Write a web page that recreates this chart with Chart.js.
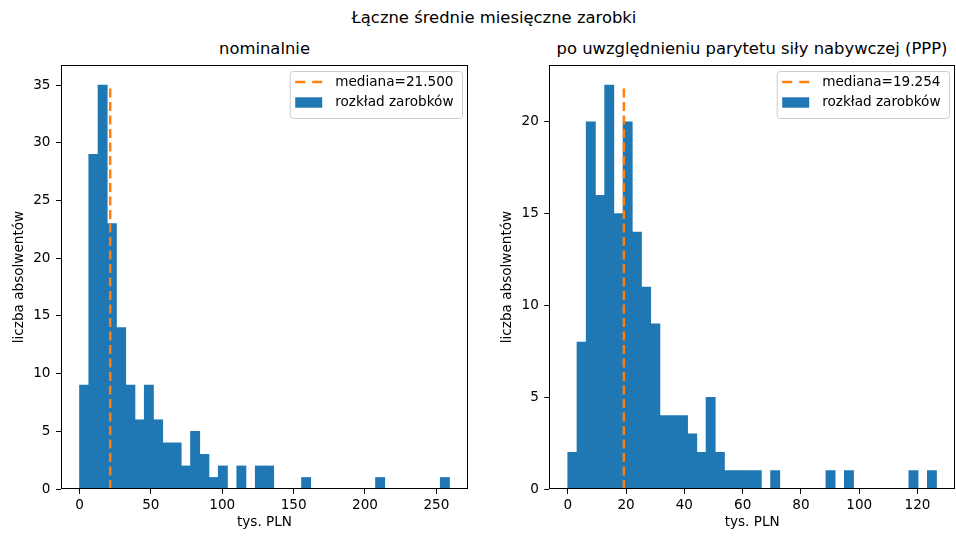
<!DOCTYPE html>
<html>
<head>
<meta charset="utf-8">
<script src="https://cdn.jsdelivr.net/npm/chart.js@4.4.0/dist/chart.umd.min.js"></script>
<style>
html,body{margin:0;padding:0;background:#fff;}
body{width:956px;height:536px;position:relative;overflow:hidden;font-family:"DejaVu Sans",sans-serif;}
.box{position:absolute;top:0;height:536px;}
.ttl{position:absolute;transform:translate(-50%,-50%);white-space:nowrap;color:#000;font-size:16.4px;line-height:1;}
</style>
</head>
<body>
<div class="ttl" style="left:494px;top:18px">Łączne średnie miesięczne zarobki</div>
<div class="ttl" style="left:264.5px;top:49px">nominalnie</div>
<div class="ttl" style="left:752px;top:49px">po uwzględnieniu parytetu siły nabywczej (PPP)</div>
<div class="box" style="left:0;width:478px"><canvas id="cNom"></canvas></div>
<div class="box" style="left:478px;width:478px"><canvas id="cPpp"></canvas></div>
<script>
/* ── DATA ── */
// nominal earnings, thousands PLN: 40 bins
const nomCounts   = [9,29,35,23,14,9,6,9,6,4, 4,2,5,3,1,2,0,2,0,2, 2,0,0,0,1,0,0,0,0,0, 0,0,1,0,0,0,0,0,0,1];
const nomBinStart = 0;
const nomBinWidth = 6.48;
const nomMedian   = 21.5;
const nomXTicks   = [0,50,100,150,200,250];
const nomYTicks   = [0,5,10,15,20,25,30,35];

// PPP-adjusted earnings: 40 bins
const pppCounts   = [2,8,20,16,22,15,20,14,11,9, 4,4,4,3,2,5,2,1,1,1, 1,0,1,0,0,0,0,0,1,0, 1,0,0,0,0,0,0,1,0,1];
const pppBinStart = 0;
const pppBinWidth = 3.163;
const pppMedian   = 19.254;
const pppXTicks   = [0,20,40,60,80,100,120];
const pppYTicks   = [0,5,10,15,20];

const BLUE='#1f77b4', ORANGE='#ff7f0e', FONT='"DejaVu Sans"', FS=13.6;
const DASH=[9,4.5];

/* ── frame (4 spines) + matplotlib-like legend ── */
const frame = {
  id:'frame',
  afterDraw(chart){
    const {ctx, chartArea:a} = chart;
    ctx.save();
    ctx.strokeStyle='#000'; ctx.lineWidth=1;
    const l=Math.round(a.left)+0.5, t=Math.round(a.top)+0.5, r=Math.round(a.right)-0.5, b=Math.round(a.bottom)-0.5;
    ctx.strokeRect(l,t,r-l,b-t);

    // legend box in the upper right corner
    ctx.font = FS+'px '+FONT;
    const ds = chart.data.datasets;
    const tw = Math.max(...ds.map(d=>ctx.measureText(d.label).width));
    const w = 5.5+27+13+tw+8.5, h = 47;
    const x0 = a.right-6-w, y0 = a.top+6;
    ctx.beginPath();
    if (ctx.roundRect) ctx.roundRect(x0+0.5,y0+0.5,w,h,3); else ctx.rect(x0+0.5,y0+0.5,w,h);
    ctx.fillStyle='rgba(255,255,255,0.8)'; ctx.fill();
    ctx.strokeStyle='#cccccc'; ctx.lineWidth=1; ctx.stroke();
    // median line handle
    ctx.beginPath();
    ctx.setLineDash([10,7]);
    ctx.strokeStyle=ORANGE; ctx.lineWidth=2.5;
    ctx.moveTo(x0+5.5,y0+11); ctx.lineTo(x0+32.5,y0+11); ctx.stroke();
    ctx.setLineDash([]);
    // bar handle
    ctx.fillStyle=BLUE;
    ctx.fillRect(x0+5.5,y0+31.5-5.2,27,10.4);
    ctx.fillStyle='#000'; ctx.textBaseline='middle'; ctx.textAlign='left';
    ctx.fillText(ds[0].label, x0+45.5, y0+11);
    ctx.fillText(ds[1].label, x0+45.5, y0+31.5);
    ctx.restore();
  }
};

function histChart(id, o) {
  const bars = o.counts.map((c,i)=>({x:o.binStart+(i+0.5)*o.binWidth, y:c}));
  const top = Math.max(...o.counts);
  const tickFont = {family:FONT,size:FS};
  return new Chart(document.getElementById(id), {
    type:'bar',
    data:{datasets:[
      { type:'line', label:o.medianLabel, data:[{x:o.median,y:0},{x:o.median,y:top}],
        borderColor:ORANGE, borderWidth:2.5, borderDash:DASH, pointRadius:0, fill:false, order:0 },
      { type:'bar', label:'rozkład zarobków', data:bars, backgroundColor:BLUE,
        barPercentage:1, categoryPercentage:1, borderWidth:0, order:1 }
    ]},
    options:{
      responsive:true, maintainAspectRatio:false, animation:false, events:[],
      layout:{padding:o.pad},
      plugins:{legend:{display:false}, tooltip:{enabled:false}},
      scales:{
        x:{ type:'linear', min:o.xMin, max:o.xMax, offset:false,
            afterBuildTicks:s=>{ s.ticks = o.xTicks.map(v=>({value:v})); },
            afterFit:s=>{ s.height = 47; },
            grid:{drawOnChartArea:false, tickLength:5, tickColor:'#000', offset:false},
            border:{display:false},
            ticks:{color:'#000', font:tickFont, padding:3, maxRotation:0, autoSkip:false},
            title:{display:true, text:'tys. PLN', color:'#000', font:tickFont, padding:{top:0,bottom:5.8}} },
        y:{ type:'linear', min:0, max:o.yMax,
            afterBuildTicks:s=>{ s.ticks = o.yTicks.map(v=>({value:v})); },
            afterFit:s=>{ s.width = o.yWidth; },
            grid:{drawOnChartArea:false, tickLength:5, tickColor:'#000'},
            border:{display:false},
            ticks:{color:'#000', font:tickFont, padding:5.5, autoSkip:false},
            title:{display:true, text:'liczba absolwentów', color:'#000', font:tickFont, padding:{top:11.8,bottom:0}} }
      }
    },
    plugins:[frame]
  });
}

histChart('cNom', {
  counts:nomCounts, binStart:nomBinStart, binWidth:nomBinWidth,
  median:nomMedian, medianLabel:'mediana=21.500',
  xTicks:nomXTicks, yTicks:nomYTicks,
  xMin:-12.96, xMax:272.16, yMax:36.75,
  yWidth:61, pad:{top:65,right:10,left:0,bottom:0}
});
histChart('cPpp', {
  counts:pppCounts, binStart:pppBinStart, binWidth:pppBinWidth,
  median:pppMedian, medianLabel:'mediana=19.254',
  xTicks:pppXTicks, yTicks:pppYTicks,
  xMin:-6.33, xMax:132.85, yMax:23.1,
  yWidth:61.3, pad:{top:65,right:1,left:10,bottom:0}
});
</script>
</body>
</html>
